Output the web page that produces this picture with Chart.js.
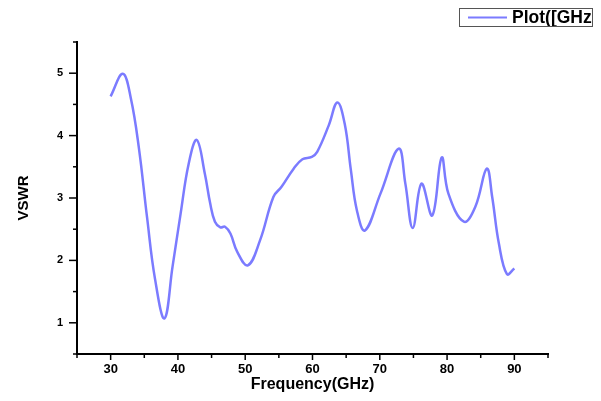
<!DOCTYPE html>
<html lang="en">
<head>
    <meta charset="UTF-8">
    <title>VSWR vs Frequency</title>
    <script src="https://cdn.jsdelivr.net/npm/chart.js"></script>
    <style>
        body { margin: 0; background: #ffffff; }
        canvas { display: block; }
    </style>
</head>
<body>
    <canvas id="vswrChart" width="601" height="401"></canvas>

    <script>
        // values
        const freq = [30.0, 31.8, 33.0, 34.2, 35.4, 36.6, 38.0, 39.2, 40.4, 41.6, 42.8, 44.0, 44.8,
                      45.5, 46.3, 47.0, 47.8, 48.8, 50.4, 52.2, 54.2, 55.4, 57.2, 58.5, 59.9, 60.7, 62.4,
                      63.7, 64.8, 65.7, 66.6, 67.8, 70.1, 72.8, 73.8, 74.9, 76.2, 77.8, 79.2, 80.2, 82.5,
                      84.2, 85.9, 86.7, 87.7, 88.9, 90.0];
        const vswr = [4.63, 4.99, 4.60, 3.80, 2.70, 1.70, 1.07, 1.90, 2.75, 3.55, 3.93, 3.39, 2.91,
                      2.62, 2.53, 2.54, 2.43, 2.14, 1.92, 2.32, 3.02, 3.18, 3.47, 3.62, 3.66, 3.74, 4.16,
                      4.53, 4.18, 3.45, 2.80, 2.48, 3.07, 3.79, 3.23, 2.52, 3.23, 2.72, 3.65, 3.07, 2.62,
                      2.86, 3.47, 3.02, 2.27, 1.78, 1.87];
        const xTickLabels = [30, 40, 50, 60, 70, 80, 90];
        const yTickLabels = [1, 2, 3, 4, 5];
        const seriesName = 'Plot([GHz]';

        const lineColor = '#7b7bff';

        // minor/major tick marks + the clipped legend box in the top right
        const extrasPlugin = {
            id: 'extras',
            afterDraw(chart) {
                const {ctx, scales: {x, y}} = chart;
                ctx.save();
                ctx.strokeStyle = '#000';
                ctx.lineWidth = 1.5;
                for (let v = 25; v <= 95; v += 5) {
                    const px = x.getPixelForValue(v);
                    const len = xTickLabels.includes(v) ? 6 : 4;
                    ctx.beginPath();
                    ctx.moveTo(px, x.top);
                    ctx.lineTo(px, x.top + len);
                    ctx.stroke();
                }
                for (let v = 0.5; v <= 5.5; v += 0.5) {
                    const py = y.getPixelForValue(v);
                    const len = yTickLabels.includes(v) ? 8 : 4;
                    ctx.beginPath();
                    ctx.moveTo(y.right, py);
                    ctx.lineTo(y.right - len, py);
                    ctx.stroke();
                }

                // legend
                ctx.strokeStyle = '#555';
                ctx.lineWidth = 1;
                ctx.strokeRect(459.5, 8.5, 133, 18);
                ctx.beginPath();
                ctx.rect(460, 9, 132, 17);
                ctx.clip();
                ctx.strokeStyle = lineColor;
                ctx.lineWidth = 2;
                ctx.beginPath();
                ctx.moveTo(468, 17.5);
                ctx.lineTo(507, 17.5);
                ctx.stroke();
                ctx.fillStyle = '#000';
                ctx.font = 'bold 17.5px "Liberation Sans", Arial, sans-serif';
                ctx.textBaseline = 'middle';
                ctx.fillText(seriesName, 512, 18);
                ctx.restore();
            }
        };

        new Chart(document.getElementById('vswrChart'), {
            type: 'scatter',
            data: {
                datasets: [{
                    label: seriesName,
                    data: freq.map((f, i) => ({x: f, y: vswr[i]})),
                    showLine: true,
                    borderColor: lineColor,
                    borderWidth: 2.5,
                    pointRadius: 0,
                    tension: 0.4
                }]
            },
            options: {
                responsive: false,
                animation: false,
                layout: { padding: { top: 42, right: 53, left: 0, bottom: 0 } },
                plugins: {
                    legend: { display: false },
                    tooltip: { enabled: false }
                },
                scales: {
                    x: {
                        type: 'linear',
                        min: 25,
                        max: 95,
                        afterFit: s => { s.height = 47; },
                        grid: { display: false, drawTicks: false },
                        border: { display: true, color: '#000', width: 2 },
                        ticks: {
                            stepSize: 5,
                            autoSkip: false,
                            maxRotation: 0,
                            padding: 8,
                            color: '#000',
                            font: { family: '"Liberation Sans", Arial, sans-serif', size: 13, weight: 'bold' },
                            callback: v => xTickLabels.includes(v) ? String(v) : ''
                        },
                        title: {
                            display: true,
                            text: 'Frequency(GHz)',
                            color: '#000',
                            padding: { top: 0, bottom: 7 },
                            font: { family: '"Liberation Sans", Arial, sans-serif', size: 16, weight: 'bold' }
                        }
                    },
                    y: {
                        min: 0.5,
                        max: 5.5,
                        afterFit: s => { s.width = 77; },
                        grid: { display: false, drawTicks: false },
                        border: { display: true, color: '#000', width: 2 },
                        ticks: {
                            stepSize: 0.5,
                            autoSkip: false,
                            padding: 14,
                            color: '#000',
                            font: { family: '"Liberation Sans", Arial, sans-serif', size: 11, weight: 'bold' },
                            callback: v => yTickLabels.includes(v) ? String(v) : ''
                        },
                        title: {
                            display: true,
                            text: 'VSWR',
                            color: '#000',
                            padding: { top: 15, bottom: 0 },
                            font: { family: '"Liberation Sans", Arial, sans-serif', size: 15, weight: 'bold' }
                        }
                    }
                }
            },
            plugins: [extrasPlugin]
        });
    </script>
</body>
</html>
